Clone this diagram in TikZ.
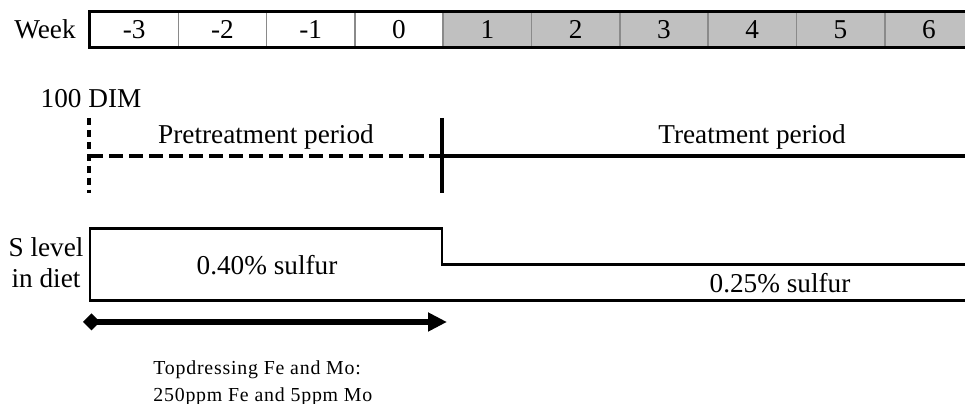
\documentclass[tikz,border=0pt]{standalone}
\usepackage{fontspec}
\setmainfont{Liberation Serif}
\usepackage{tikz}
\usetikzlibrary{arrows.meta,positioning,calc}
\usepackage{xcolor}
\definecolor{weekgray}{HTML}{C0C0C0}
\definecolor{dividergray}{HTML}{8A8A8A}
\tikzset{
  bigtext/.style={
    font=\fontsize{15.5}{17.6}\selectfont,
    inner sep=0pt
  },
  smalltext/.style={
    font=\addfontfeature{LetterSpace=4}\fontsize{11.3}{15.4}\selectfont,
    inner sep=0pt,
    align=left
  },
  weekcell/.style={
    draw=dividergray,
    line width=0.9pt,
    minimum width=1.766cm,
    minimum height=0.68cm,
    inner sep=0pt,
    font=\fontsize{15.5}{17.6}\selectfont
  },
  treatcell/.style={
    weekcell,
    fill=weekgray
  },
  tableborder/.style={
    draw=black,
    line width=1.7pt
  },
  prephase/.style={
    line width=2.3pt,
    dash pattern=on 8pt off 3.4pt
  },
  prephasevert/.style={
    line width=2.3pt,
    dash pattern=on 4pt off 2.8pt
  },
  phaseline/.style={
    line width=2.3pt
  },
  dietline/.style={
    line width=1.7pt
  },
  doseline/.style={
    {Diamond[length=0.34cm,width=0.34cm]}-{Triangle[length=0.38cm,width=0.36cm]},
    line width=3.4pt
  }
}

\begin{document}
\begin{tikzpicture}[x=0.02cm,y=-0.02cm]
\useasboundingbox (0,0) rectangle (965,404);
% week table
\node[bigtext] (week) at (45,29) {Week};
\foreach \w [count=\i from 0] in {-3,-2,-1,0}
  \node[weekcell] (wk\i) at ({134.15+88.3*\i},29.5) {\w};
\foreach \w [count=\i from 4] in {1,2,3,4,5,6}
  \node[treatcell] (wk\i) at ({134.15+88.3*\i},29.5) {\w};
\draw[tableborder] (wk0.north west) rectangle (wk9.south east);
% periods
\node[bigtext, anchor=base] (dim) at (91,108) {100 DIM};
\coordinate (dimtop) at (89,118);
\coordinate (dimbot) at (89,193);
\coordinate (dimmid) at (89,156);
\coordinate (switchtop) at (442,118);
\coordinate (switchbot) at (442,193);
\coordinate (switchmid) at (442,156);
\coordinate (periodend) at (965,156);
\draw[prephasevert] (dimtop) -- (dimbot);
\draw[prephase] (dimmid) -- (switchmid);
\draw[phaseline] (switchtop) -- (switchbot);
\draw[phaseline] (switchmid) -- (periodend);
\node[bigtext, anchor=base] (pre) at (266,144) {Pretreatment period};
\node[bigtext, anchor=base] (treat) at (752,144) {Treatment period};
% sulfur levels
\node[bigtext, align=center] (slevel) at (46,263) {S level\\in diet};
\coordinate (boxnw) at (90,229);
\coordinate (boxsw) at (90,301);
\coordinate (steptop) at (442,229);
\coordinate (stepbot) at (442,265);
\coordinate (lowend) at (965,265);
\coordinate (boxend) at (965,301);
\draw[dietline] (lowend) -- (stepbot) -- (steptop) -- (boxnw) -- (boxsw) -- (boxend);
\node[bigtext, anchor=base] (high) at (267,275) {0.40\% sulfur};
\node[bigtext, anchor=base] (low) at (780,293) {0.25\% sulfur};
% topdressing
\coordinate (fdstart) at (83,322);
\coordinate (fdend) at (447,322);
\draw[doseline] (fdstart) -- (fdend);
\node[smalltext, anchor=north west] (topdress) at (153,360)
  {Topdressing Fe and Mo:\\250ppm Fe and 5ppm Mo};
\end{tikzpicture}
\end{document}
